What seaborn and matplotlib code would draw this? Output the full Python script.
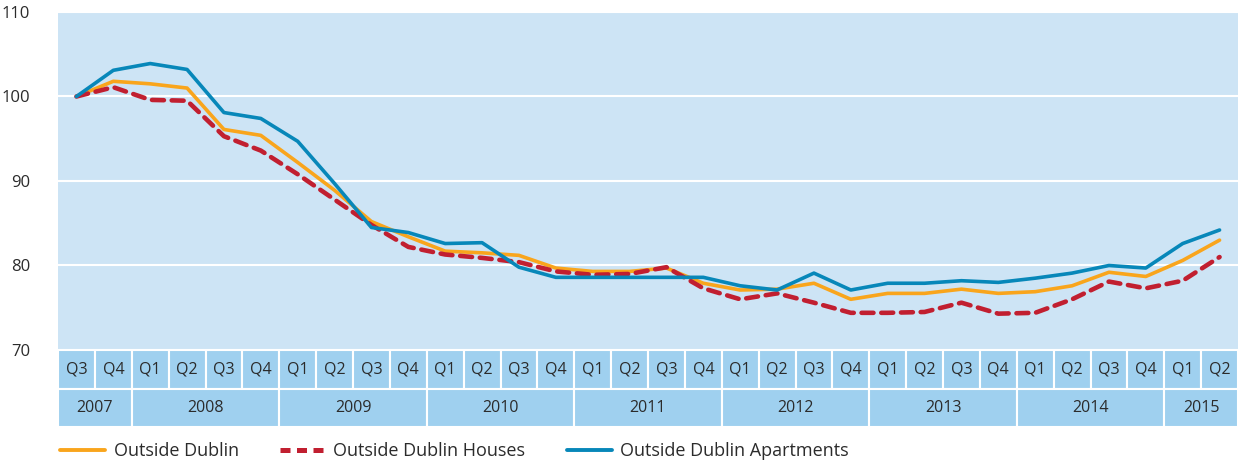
import pandas as pd
import numpy as np
import seaborn as sns
import matplotlib.pyplot as plt

# Index values, quarterly, 2007 Q3 = 100
quarters = ['Q3', 'Q4',
            'Q1', 'Q2', 'Q3', 'Q4', 'Q1', 'Q2', 'Q3', 'Q4',
            'Q1', 'Q2', 'Q3', 'Q4', 'Q1', 'Q2', 'Q3', 'Q4',
            'Q1', 'Q2', 'Q3', 'Q4', 'Q1', 'Q2', 'Q3', 'Q4',
            'Q1', 'Q2', 'Q3', 'Q4', 'Q1', 'Q2']
years = ['2007', '2008', '2009', '2010', '2011', '2012', '2013', '2014', '2015']
year_quarters = [2, 4, 4, 4, 4, 4, 4, 4, 2]

outside_dublin = [100.0, 101.8, 101.5, 101.0, 96.1, 95.4, 92.2, 88.9, 85.2, 83.4,
                  81.7, 81.5, 81.2, 79.7, 79.3, 79.3, 79.7, 77.9, 77.1, 77.2,
                  77.9, 76.0, 76.7, 76.7, 77.2, 76.7, 76.9, 77.6, 79.2, 78.7,
                  80.6, 83.0]
houses = [100.0, 101.1, 99.6, 99.5, 95.3, 93.6, 90.8, 87.8, 84.8, 82.2,
          81.3, 80.9, 80.4, 79.3, 78.9, 79.0, 79.8, 77.3, 76.0, 76.7,
          75.6, 74.4, 74.4, 74.5, 75.6, 74.3, 74.4, 76.0, 78.1, 77.3,
          78.2, 81.0]
apartments = [100.0, 103.1, 103.9, 103.2, 98.1, 97.4, 94.7, 89.7, 84.5, 83.9,
              82.6, 82.7, 79.8, 78.6, 78.6, 78.6, 78.6, 78.6, 77.6, 77.1,
              79.1, 77.1, 77.9, 77.9, 78.2, 78.0, 78.5, 79.1, 80.0, 79.7,
              82.6, 84.2]

names = ['Outside Dublin', 'Outside Dublin Houses', 'Outside Dublin Apartments']
colors = ['#f9a51c', '#c11f30', '#0787b9']

idx = np.arange(len(quarters))
df = pd.DataFrame({
    'q': np.tile(idx, 3),
    'value': outside_dublin + houses + apartments,
    'series': np.repeat(names, len(quarters)),
})

sns.set_style('white')
plt.rcParams['font.family'] = ['Open Sans', 'DejaVu Sans']
txt = '#2b2b2b'
bg = '#cde4f5'
cell = '#9fd0ef'

fig = plt.figure(figsize=(12.43, 4.63), dpi=100)
W, H = 1243, 463
ax = fig.add_axes([58 / W, 1 - 350 / H, (1238 - 58) / W, (350 - 12) / H])
ax_t = fig.add_axes([58 / W, 1 - 427 / H, (1238 - 58) / W, (427 - 350) / H])

ax.set_facecolor(bg)
sns.lineplot(data=df, x='q', y='value', hue='series', style='series',
             hue_order=names, style_order=names,
             palette=dict(zip(names, colors)),
             dashes={names[0]: '', names[1]: (2.6, 1.7), names[2]: ''},
             ax=ax, legend=False)
for line, lw in zip(ax.lines, [2.6, 3.3, 2.6]):
    line.set_linewidth(lw)
    line.set_solid_capstyle('round')
    line.set_dash_capstyle('round')

ax.set_xlim(-0.5, len(quarters) - 0.5)
ax.set_ylim(70, 110)
ax.set_yticks([70, 80, 90, 100, 110])
ax.set_xticks([])
ax.set_xlabel('')
ax.set_ylabel('')
ax.grid(axis='y', color='white', linewidth=1.5)
ax.set_axisbelow(True)
ax.tick_params(axis='y', length=0, pad=20, labelsize=12, labelcolor=txt)
for s in ax.spines.values():
    s.set_visible(False)

# category table under the plot
ax_t.bar(idx, 1, bottom=1, width=1, color=cell, edgecolor='white', linewidth=1.5)
for i, q in enumerate(quarters):
    ax_t.text(i, 1.5, q, ha='center', va='center', fontsize=11.5, color=txt)
ends = np.cumsum(year_quarters)
starts = ends - np.array(year_quarters)
centers = (starts + ends) / 2 - 0.5
ax_t.bar(centers, 1, bottom=0, width=year_quarters, color=cell,
         edgecolor='white', linewidth=1.5)
for c, y in zip(centers, years):
    ax_t.text(c, 0.5, y, ha='center', va='center', fontsize=11.5, color=txt)
ax_t.set_xlim(-0.5, len(quarters) - 0.5)
ax_t.set_ylim(0, 2)
ax_t.axis('off')

handles = [plt.Line2D([], [], color=colors[0], lw=2.8),
           plt.Line2D([], [], color=colors[1], lw=3.6, ls=(0, (2.0, 1.3))),
           plt.Line2D([], [], color=colors[2], lw=2.8)]
fig.legend(handles, names, loc='center left', bbox_to_anchor=(44 / W, 1 - 451 / H),
           ncol=3, frameon=False, fontsize=13, handlelength=2.5,
           handletextpad=0.45, columnspacing=2.3, labelcolor=txt)

fig.savefig('out.png', dpi=100)
